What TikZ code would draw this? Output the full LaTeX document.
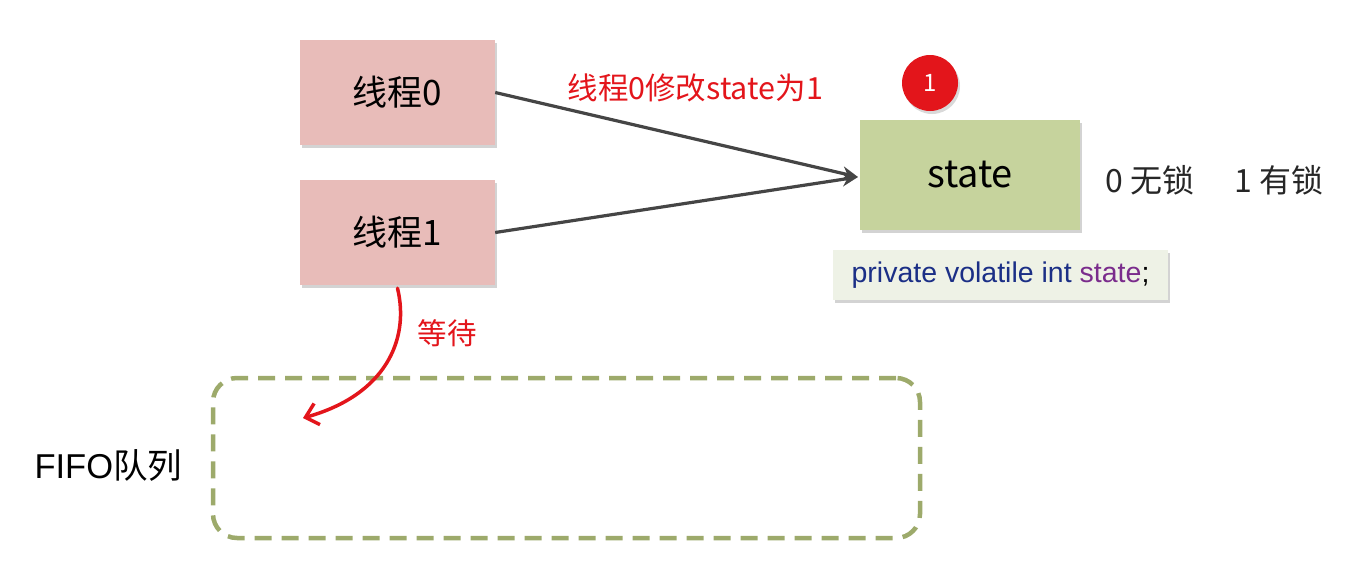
\documentclass[tikz,border=0pt]{standalone}
\usepackage{fontspec}
\setmainfont{Liberation Sans}
\newfontfamily\cjk{Noto Sans CJK SC}
\usetikzlibrary{arrows.meta,shadows,calc}
\definecolor{pinkfill}{HTML}{E8BCB9}
\definecolor{greenfill}{HTML}{C6D39D}
\definecolor{codefill}{HTML}{EEF2E6}
\definecolor{dashgreen}{HTML}{9DAA6B}
\definecolor{redlbl}{HTML}{E3151B}
\definecolor{arrowgray}{HTML}{454545}
\definecolor{navy}{HTML}{1B2F86}
\definecolor{purp}{HTML}{7A2C8C}
\tikzset{
  x=1pt,y=-1pt,
  shadowed/.style={drop shadow={shadow xshift=2pt,shadow yshift=-3pt,opacity=0.35,fill=gray}},
  thread/.style={shadowed,fill=pinkfill,minimum width=195pt,minimum height=105pt,inner sep=0pt,font=\cjk\fontsize{35}{40}\selectfont},
  statebox/.style={shadowed,fill=greenfill,minimum width=220pt,minimum height=110pt,inner sep=0pt,font=\cjk\fontsize{38}{44}\selectfont},
  codebox/.style={shadowed,fill=codefill,minimum width=335pt,minimum height=50pt,inner sep=0pt,font=\fontsize{28.5}{32}\selectfont},
  conn/.style={draw=arrowgray,line width=3.2pt,-{Stealth[length=16pt,width=14pt]}},
  redtext/.style={text=redlbl,font=\cjk\fontsize{30.5}{35}\selectfont},
  plain/.style={font=\cjk\fontsize{32}{37}\selectfont,text=black!85}
}
\begin{document}
\begin{tikzpicture}
\useasboundingbox (0,0) rectangle (1356,563);
\node[thread] (t0) at (397.5,92.5) {线程0};
\node[thread] (t1) at (397.5,232.5) {线程1};
\node[statebox] (st) at (970,175) {state};
\node[codebox] (code) at (1000.5,275) {\textcolor{navy}{private volatile int }\textcolor{purp}{state};};
\node[circle,fill=redlbl,minimum size=56pt,inner sep=0pt,text=white,font=\cjk\fontsize{24}{28}\selectfont,drop shadow={shadow xshift=2pt,shadow yshift=-3pt,opacity=0.3,fill=gray}] (one) at (930,83) {1};
\node[plain,anchor=west] (lk) at (1102,180) {0 无锁\hspace{40pt}1 有锁};
\node[redtext,anchor=west] (lbl) at (564,88) {线程0修改state为1};
\coordinate (tip) at (858,177);
\draw[conn] (t0.east) -- (tip);
\draw[conn] (t1.east) -- (tip);
\node[draw=dashgreen,line width=4.5pt,dash pattern=on 17pt off 10pt,rounded corners=24pt,minimum width=707pt,minimum height=160pt] (fifo) at (566.5,458) {};
\node[font=\fontsize{34.5}{39}\selectfont,anchor=west] (fl) at (31,465) {FIFO{\cjk 队列}};
\coordinate (wend) at (303,418);
\draw[draw=redlbl,line width=3.5pt,line cap=round,-{Straight Barb[length=12pt,width=22pt,line width=3.5pt]}] ($(t1.south)+(0,3)$) .. controls (410,340) and (385,395) .. (wend);
\node[redtext,font=\cjk\fontsize{29.5}{34}\selectfont] (wait) at (447,333) {等待};
\end{tikzpicture}
\end{document}
